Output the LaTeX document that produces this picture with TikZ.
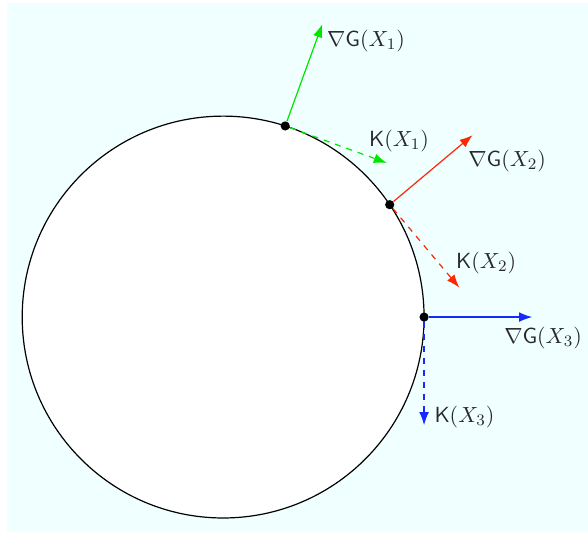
\documentclass[tikz,border=0pt]{standalone}
\usepackage{amsmath}
\usepackage{tikz}
\usetikzlibrary{arrows.meta}

\definecolor{bgcyan}{RGB}{240,255,255}
\definecolor{gcol}{RGB}{0,230,0}
\definecolor{rcol}{RGB}{255,40,0}
\definecolor{bcol}{RGB}{20,40,255}
\definecolor{textgray}{RGB}{40,40,40}

\begin{document}
\begin{tikzpicture}[
		point/.style={
			circle,
			fill=black,
			inner sep=0pt,
			minimum size=4.6pt
		},
		vec/.style={-{Latex[length=6.5pt,width=4.8pt]}, semithick},
		kvec/.style={vec, dashed},
		lbl/.style={text=textgray, inner sep=1pt, font=\fontsize{11}{13}\selectfont}
		]
		
		% Background
		\useasboundingbox (-3.92,-3.78) rectangle (6.41,5.57);
		\fill[bgcyan] (-3.80,-3.78) rectangle (6.41,5.52);
		
		% Circle
		\draw[semithick, fill=white] (0,0) circle (3.53);
		
		% Points on the circle
		\node[point] (x1) at (72:3.53) {};
		\node[point] (x2) at (34:3.53) {};
		\node[point] (x3) at (0:3.53) {};
		
		% Arrow ends
		\path (x1.center) ++(70:1.9) coordinate (g1);
		\path (x1.center) ++(-20:1.9) coordinate (k1);
		\path (x2.center) ++(40:1.9) coordinate (g2);
		\path (x2.center) ++(-50:1.9) coordinate (k2);
		\path (x3.center) ++(0:1.9) coordinate (g3);
		\path (x3.center) ++(-90:1.9) coordinate (k3);
		
		% Arrows
		\draw[vec, gcol] (x1) -- (g1);
		\draw[kvec, gcol] (x1) -- (k1);
		\draw[vec, rcol] (x2) -- (g2);
		\draw[kvec, rcol] (x2) -- (k2);
		\draw[vec, bcol] (x3) -- (g3);
		\draw[kvec, bcol] (x3) -- (k3);
		
		% Labels
		\node[lbl] (lg1) at (2.51,4.85) {$\nabla\mathsf{G}(X_1)$};
		\node[lbl] (lk1) at (3.09,3.09) {$\mathsf{K}(X_1)$};
		\node[lbl] (lg2) at (4.99,2.74) {$\nabla\mathsf{G}(X_2)$};
		\node[lbl] (lk2) at (4.62,0.95) {$\mathsf{K}(X_2)$};
		\node[lbl] (lg3) at (5.62,-0.37) {$\nabla\mathsf{G}(X_3)$};
		\node[lbl] (lk3) at (4.24,-1.76) {$\mathsf{K}(X_3)$};
		
	\end{tikzpicture}
\end{document}
